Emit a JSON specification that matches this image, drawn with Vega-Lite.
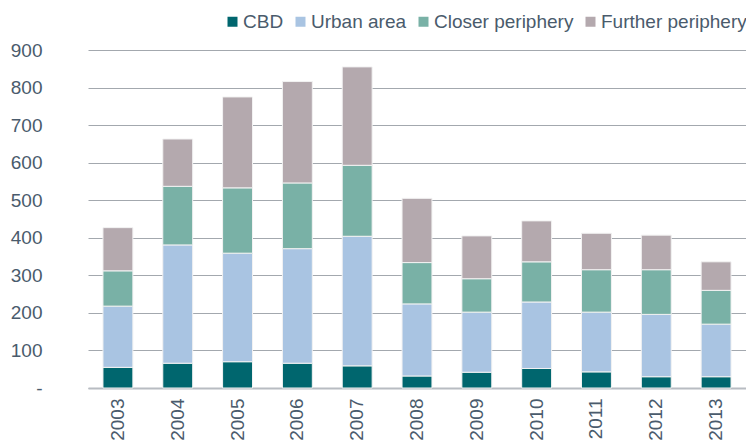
{
  "$schema": "https://vega.github.io/schema/vega-lite/v6.json",
  "width": 658,
  "height": 338,
  "autosize": {"type": "none"},
  "padding": {"left": 88, "top": 50, "right": 0, "bottom": 53},
  "background": "white",
  "config": {
    "font": "Liberation Sans",
    "view": {"stroke": null}
  },
  "data": {
    "values": [
      {"year": "2003", "area": "CBD", "value": 55},
      {"year": "2003", "area": "Urban area", "value": 163},
      {"year": "2003", "area": "Closer periphery", "value": 94},
      {"year": "2003", "area": "Further periphery", "value": 115},
      {"year": "2004", "area": "CBD", "value": 66},
      {"year": "2004", "area": "Urban area", "value": 315},
      {"year": "2004", "area": "Closer periphery", "value": 156},
      {"year": "2004", "area": "Further periphery", "value": 126},
      {"year": "2005", "area": "CBD", "value": 70},
      {"year": "2005", "area": "Urban area", "value": 289},
      {"year": "2005", "area": "Closer periphery", "value": 174},
      {"year": "2005", "area": "Further periphery", "value": 242},
      {"year": "2006", "area": "CBD", "value": 66},
      {"year": "2006", "area": "Urban area", "value": 305},
      {"year": "2006", "area": "Closer periphery", "value": 175},
      {"year": "2006", "area": "Further periphery", "value": 270},
      {"year": "2007", "area": "CBD", "value": 59},
      {"year": "2007", "area": "Urban area", "value": 345},
      {"year": "2007", "area": "Closer periphery", "value": 189},
      {"year": "2007", "area": "Further periphery", "value": 262},
      {"year": "2008", "area": "CBD", "value": 32},
      {"year": "2008", "area": "Urban area", "value": 192},
      {"year": "2008", "area": "Closer periphery", "value": 110},
      {"year": "2008", "area": "Further periphery", "value": 171},
      {"year": "2009", "area": "CBD", "value": 42},
      {"year": "2009", "area": "Urban area", "value": 160},
      {"year": "2009", "area": "Closer periphery", "value": 89},
      {"year": "2009", "area": "Further periphery", "value": 114},
      {"year": "2010", "area": "CBD", "value": 52},
      {"year": "2010", "area": "Urban area", "value": 177},
      {"year": "2010", "area": "Closer periphery", "value": 107},
      {"year": "2010", "area": "Further periphery", "value": 109},
      {"year": "2011", "area": "CBD", "value": 43},
      {"year": "2011", "area": "Urban area", "value": 159},
      {"year": "2011", "area": "Closer periphery", "value": 113},
      {"year": "2011", "area": "Further periphery", "value": 97},
      {"year": "2012", "area": "CBD", "value": 30},
      {"year": "2012", "area": "Urban area", "value": 166},
      {"year": "2012", "area": "Closer periphery", "value": 119},
      {"year": "2012", "area": "Further periphery", "value": 92},
      {"year": "2013", "area": "CBD", "value": 30},
      {"year": "2013", "area": "Urban area", "value": 140},
      {"year": "2013", "area": "Closer periphery", "value": 90},
      {"year": "2013", "area": "Further periphery", "value": 76}
    ]
  },
  "transform": [
    {"calculate": "indexof(['CBD', 'Urban area', 'Closer periphery', 'Further periphery'], datum.area)", "as": "stackOrder"}
  ],
  "mark": {"type": "bar", "stroke": "#f2f2f2", "strokeWidth": 1},
  "encoding": {
    "x": {
      "field": "year",
      "type": "ordinal",
      "scale": {"paddingInner": 0.5, "paddingOuter": 0.25},
      "axis": {
        "title": null,
        "labelAngle": -90,
        "labelAlign": "right",
        "labelBaseline": "middle",
        "labelPadding": 10,
        "labelFontSize": 19,
        "labelColor": "#4a5b6c",
        "ticks": false,
        "domainColor": "#b8bcc2",
        "domainWidth": 2,
        "grid": false
      }
    },
    "y": {
      "field": "value",
      "type": "quantitative",
      "aggregate": "sum",
      "scale": {"domain": [0, 900], "nice": false},
      "axis": {
        "title": null,
        "values": [0, 100, 200, 300, 400, 500, 600, 700, 800, 900],
        "labelExpr": "datum.value == 0 ? '-' : datum.label",
        "labelFontSize": 19,
        "labelColor": "#4a5b6c",
        "labelPadding": 46,
        "ticks": false,
        "domain": false,
        "grid": true,
        "gridColor": "#a3a8ae",
        "gridWidth": 1
      }
    },
    "order": {"field": "stackOrder", "type": "quantitative", "sort": "ascending"},
    "color": {
      "field": "area",
      "type": "nominal",
      "sort": ["CBD", "Urban area", "Closer periphery", "Further periphery"],
      "scale": {
        "domain": ["CBD", "Urban area", "Closer periphery", "Further periphery"],
        "range": ["#00666e", "#a9c4e2", "#79b1a6", "#b4a9ae"]
      },
      "legend": {
        "title": null,
        "orient": "none",
        "direction": "horizontal",
        "legendX": 135,
        "legendY": -38,
        "padding": 0,
        "symbolType": "square",
        "symbolSize": 100,
        "symbolStrokeWidth": 0,
        "labelFontSize": 19,
        "labelColor": "#4a5b6c",
        "labelOffset": 1,
        "columnPadding": 7
      }
    }
  }
}
